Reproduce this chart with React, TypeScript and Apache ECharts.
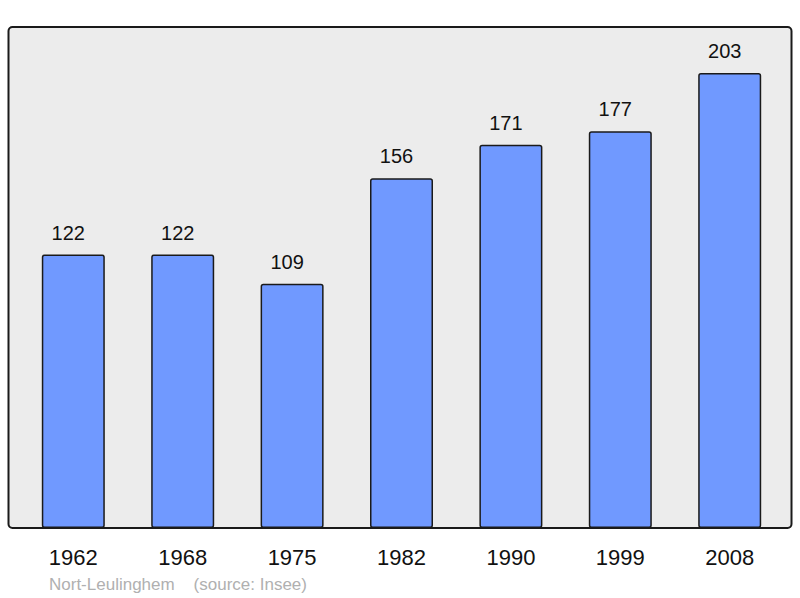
import React, { useEffect, useRef } from "react";
import * as echarts from "echarts";

const years = ["1962", "1968", "1975", "1982", "1990", "1999", "2008"];
const population = [122, 122, 109, 156, 171, 177, 203];
const sourceText = "Nort-Leulinghem    (source: Insee)";

export default function App() {
  const ref = useRef<HTMLDivElement>(null);
  useEffect(() => {
    if (!ref.current) return;
    const chart = echarts.init(ref.current, null, { renderer: "svg" });
    chart.setOption({
      animation: false,
      grid: { left: 18.6, right: 15.6, top: 27, bottom: 70 },
      graphic: [
        {
          type: "rect",
          z: -10,
          shape: { x: 8.5, y: 27, width: 783, height: 501, r: 4 },
          style: { fill: "#ececec", stroke: "#1a1a1a", lineWidth: 2 },
          silent: true,
        },
        {
          type: "text",
          x: 49,
          y: 584,
          style: {
            text: sourceText,
            fill: "#b0b0b0",
            font: '17px "Liberation Sans", Arial, sans-serif',
            textVerticalAlign: "middle",
          },
        },
      ],
      xAxis: {
        type: "category",
        data: years,
        axisLine: { show: false },
        axisTick: { show: false },
        axisLabel: {
          color: "#111",
          fontSize: 22,
          fontFamily: '"Liberation Sans", Arial, sans-serif',
          margin: 18,
        },
      },
      yAxis: {
        type: "value",
        min: 0,
        max: 223.5,
        show: false,
        splitLine: { show: false },
      },
      series: [
        {
          type: "bar",
          data: population,
          barWidth: 63,
          itemStyle: {
            color: "#7099ff",
            borderColor: "#1a1a1a",
            borderWidth: 1.5,
            borderRadius: 2,
          },
          label: {
            show: true,
            position: "top",
            distance: 12,
            offset: [-5, 0],
            color: "#111",
            fontSize: 20,
            fontFamily: '"Liberation Sans", Arial, sans-serif',
          },
        },
      ],
    });
    return () => chart.dispose();
  }, []);
  return (
    <div
      ref={ref}
      style={{ width: 800, height: 598, position: "absolute", left: 0, top: 0 }}
    />
  );
}
